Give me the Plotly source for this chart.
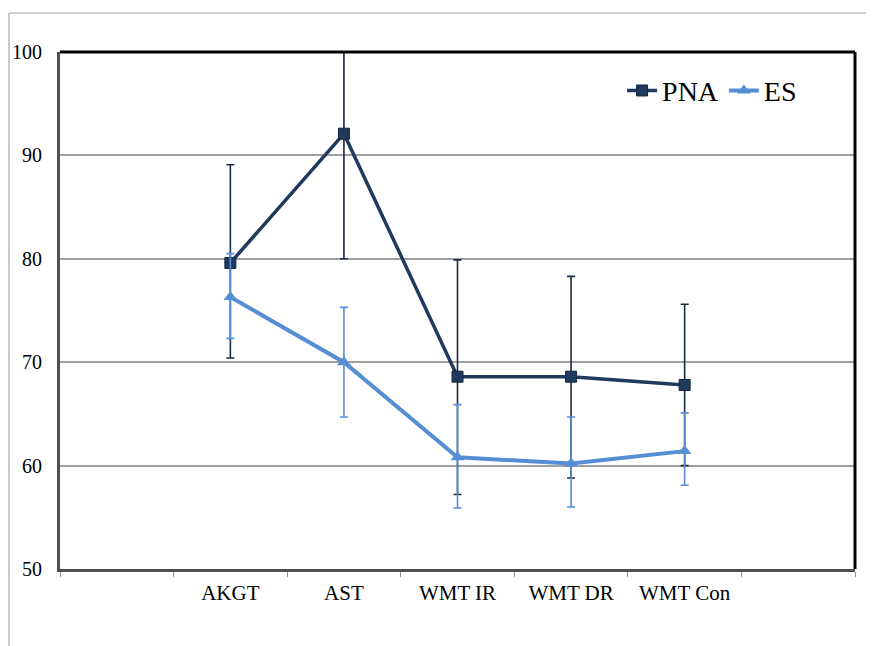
import plotly.graph_objects as go

categories = ["AKGT", "AST", "WMT IR", "WMT DR", "WMT Con"]
pna_mean = [79.6, 92.1, 68.6, 68.6, 67.8]
pna_err_up = [9.5, 12.1, 11.3, 9.7, 7.8]
pna_err_down = [9.2, 12.1, 11.4, 9.8, 7.8]
es_mean = [76.3, 70.0, 60.8, 60.2, 61.4]
es_err_up = [4.2, 5.3, 5.1, 4.5, 3.7]
es_err_down = [4.0, 5.3, 4.9, 4.2, 3.3]
y_ticks = [50, 60, 70, 80, 90, 100]

PNA_C = "#203A5E"
ES_C = "#558ED5"
FONT = "Liberation Serif, Times New Roman, serif"

x = list(range(1, len(categories) + 1))
x_lo, x_hi = -0.5, len(categories) + 1.5
OFF = 8  # page body margin
W, H = 874 - OFF, 646 - OFF
L, R, T, B = 60 - OFF, 19, 52 - OFF, 77

fig = go.Figure()
fig.add_trace(go.Scatter(
    x=x, y=pna_mean, name="PNA", mode="lines+markers",
    line=dict(color=PNA_C, width=3.5),
    marker=dict(symbol="square", size=11, color=PNA_C, line=dict(color="#14263F", width=1)),
    error_y=dict(type="data", symmetric=False, array=pna_err_up, arrayminus=pna_err_down,
                 color="#1A2A40", thickness=1.6, width=4),
))
fig.add_trace(go.Scatter(
    x=x, y=es_mean, name="ES", mode="lines+markers",
    line=dict(color=ES_C, width=4),
    marker=dict(symbol="triangle-up", size=12, color=ES_C),
    error_y=dict(type="data", symmetric=False, array=es_err_up, arrayminus=es_err_down,
                 color=ES_C, thickness=1.6, width=4),
))

pw, ph = W - L - R, H - T - B
fx = lambda px: (px - 60) / pw
fy = lambda py: (569 - py) / ph
shapes = [
    dict(type="line", xref="paper", yref="paper", x0=fx(9), x1=fx(890),
         y0=fy(13), y1=fy(13), line=dict(color="#A6A6A6", width=1.2)),
    dict(type="line", xref="paper", yref="paper", x0=fx(9), x1=fx(9),
         y0=fy(13), y1=fy(660), line=dict(color="#A6A6A6", width=1.2)),
    dict(type="line", xref="paper", yref="paper", x0=0, x1=1, y0=1, y1=1,
         line=dict(color="black", width=3)),
    dict(type="line", xref="paper", yref="paper", x0=1, x1=1, y0=0, y1=1,
         line=dict(color="black", width=3)),
]

fig.update_layout(
    width=W, height=H,
    margin=dict(l=L, r=R, t=T, b=B, autoexpand=False),
    paper_bgcolor="white", plot_bgcolor="white",
    font=dict(family=FONT, color="black", size=19),
    showlegend=True,
    legend=dict(orientation="h", x=0.707, y=0.925, xanchor="left", yanchor="middle",
                font=dict(family=FONT, size=28, color="black"),
                bgcolor="rgba(0,0,0,0)", itemwidth=30, tracegroupgap=0),
    shapes=shapes,
    xaxis=dict(
        range=[x_lo, x_hi], automargin=False,
        tickmode="array", tickvals=x, ticktext=categories,
        ticks="", showgrid=False, zeroline=False,
        showline=True, linecolor="#505050", linewidth=3,
        ticklabelstandoff=3,
        tickfont=dict(family=FONT, size=21, color="black"),
        minor=dict(tickmode="array",
                   tickvals=[x_lo + i for i in range(int(x_hi - x_lo) + 1)],
                   ticks="outside", ticklen=5, tickcolor="#909090", tickwidth=1.2,
                   showgrid=False),
    ),
    yaxis=dict(
        range=[50, 100], tickmode="array", tickvals=y_ticks, automargin=False,
        showgrid=True, gridcolor="#A0A0A0", gridwidth=1.5,
        zeroline=False, showline=True, linecolor="#505050", linewidth=3,
        ticks="", ticklabelstandoff=11,
        tickfont=dict(family=FONT, size=20, color="black"),
    ),
)

fig.write_html("out.html")
